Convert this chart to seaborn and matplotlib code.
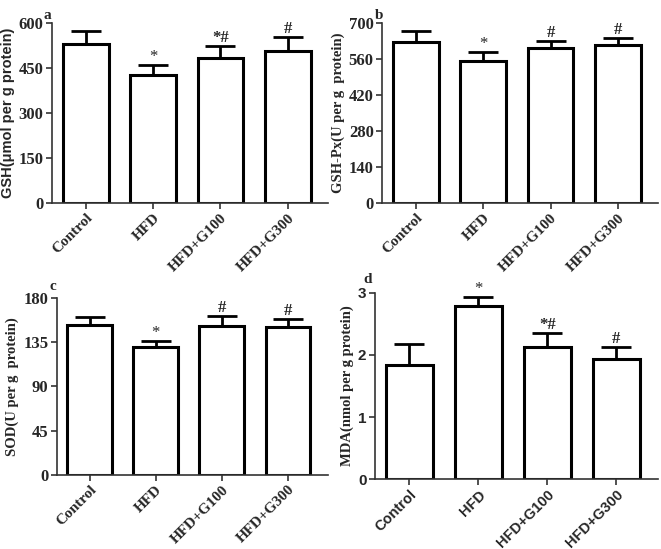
import numpy as np
import pandas as pd
import seaborn as sns
import matplotlib.pyplot as plt

sns.set_theme(style='ticks')

groups = ['Control', 'HFD', 'HFD+G100', 'HFD+G300']

gsh_mean = [531, 428, 482, 508]
gsh_top = [575, 460, 522, 552]
gsh_marks = ['', '*', '*#', '#']

gpx_mean = [627, 553, 604, 615]
gpx_top = [670, 588, 631, 640]
gpx_marks = ['', '*', '#', '#']

sod_mean = [152.5, 130, 151.5, 150.5]
sod_top = [160.5, 136.5, 162, 159]
sod_marks = ['', '*', '#', '#']

mda_mean = [1.84, 2.78, 2.13, 1.94]
mda_top = [2.17, 2.93, 2.35, 2.13]
mda_marks = ['', '*', '*#', '#']

SERIF = 'Liberation Serif'
SANS = 'Liberation Sans'


def bar_panel(fig, rect, mean, top, marks, ymax, yticks, ylabel, letter,
              ytick_font, ylabel_font, xtick_font, letter_xy):
    ax = fig.add_axes(rect)
    df = pd.DataFrame({'group': groups, 'value': mean})
    sns.barplot(data=df, x='group', y='value', ax=ax, color='white',
                edgecolor='black', linewidth=2.2, width=0.68, errorbar=None)
    x = np.arange(len(groups))
    err = np.array(top) - np.array(mean)
    ax.errorbar(x, mean, yerr=[np.zeros(len(x)), err], fmt='none',
                ecolor='black', elinewidth=2, capsize=11, capthick=2)
    for xi, t, m in zip(x, top, marks):
        if m:
            ax.text(xi, t, m, ha='center', va='bottom', family=SERIF,
                    fontsize=12, fontweight='bold' if m != '*' else 'normal')
    ax.set_ylim(0, ymax)
    ax.set_xlim(-0.5, 3.6)
    ax.set_yticks(yticks)
    yt_size = 12 if ytick_font == SERIF else 11
    ax.set_yticklabels([str(v) for v in yticks], family=ytick_font,
                       fontweight='bold', fontsize=yt_size)
    ax.set_xticks(x)
    xt_size = 11 if xtick_font == SERIF else 10.5
    ax.set_xticklabels(groups, rotation=45, ha='right', rotation_mode='anchor',
                       family=xtick_font, fontweight='bold', fontsize=xt_size)
    ax.set_xlabel('')
    ax.set_ylabel(ylabel, family=ylabel_font, fontweight='bold', fontsize=10.5,
                  labelpad=3)
    sns.despine(ax=ax)
    for s in ['left', 'bottom']:
        ax.spines[s].set_linewidth(1.2)
        ax.spines[s].set_color('#333333')
    ax.tick_params(axis='both', width=1.2, length=4, color='#333333', pad=2)
    fig.text(letter_xy[0], letter_xy[1], letter, family=SERIF,
             fontweight='bold', fontsize=11)
    return ax


fig = plt.figure(figsize=(6.61, 5.49), dpi=100)

bar_panel(fig, [0.0787, 0.630, 0.418, 0.328], gsh_mean, gsh_top, gsh_marks,
          600, [0, 150, 300, 450, 600], 'GSH(\u03bcmol per g protein)', 'a',
          SERIF, SANS, SERIF, (0.066, 0.965))
bar_panel(fig, [0.578, 0.630, 0.418, 0.328], gpx_mean, gpx_top, gpx_marks,
          700, [0, 140, 280, 420, 560, 700], 'GSH-Px(U per g  protein)', 'b',
          SERIF, SERIF, SERIF, (0.567, 0.965))
bar_panel(fig, [0.0857, 0.135, 0.41, 0.322], sod_mean, sod_top, sod_marks,
          180, [0, 45, 90, 135, 180], 'SOD(U per g  protein)', 'c',
          SERIF, SERIF, SERIF, (0.075, 0.472))
bar_panel(fig, [0.567, 0.127, 0.428, 0.340], mda_mean, mda_top, mda_marks,
          3, [0, 1, 2, 3], 'MDA(nmol per g protein)', 'd',
          SANS, SERIF, SANS, (0.549, 0.484))

fig.savefig('out.png', dpi=100)
